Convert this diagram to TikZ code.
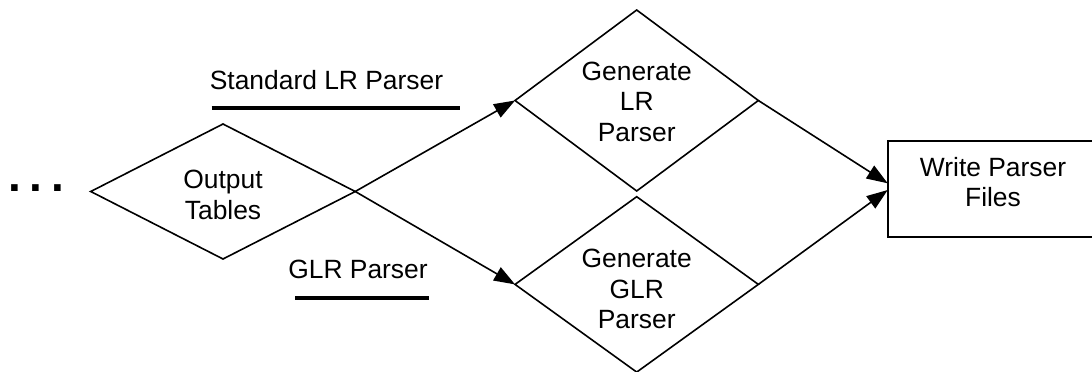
\documentclass[tikz,border=0pt]{standalone}
\usepackage{fontspec}
\setmainfont{Liberation Sans}
\usetikzlibrary{shapes.geometric,arrows.meta}
\begin{document}
\begin{tikzpicture}[x=1pt,y=-1pt,
  decision/.style={draw, diamond, line width=1.6pt, inner sep=0pt, outer sep=0pt},
  process/.style={draw, rectangle, line width=1.6pt, inner sep=0pt, outer sep=0pt},
  txt/.style={align=center, inner sep=0pt, font=\fontsize{26.4}{30.5}\selectfont},
  flow/.style={line width=1.6pt, -{Triangle[length=21pt,width=15pt]}},
  rulebar/.style={line width=4pt}]
\useasboundingbox (0,0) rectangle (1092,372);

% continuation marks
\node[inner sep=0pt, font=\fontsize{46}{46}\selectfont\bfseries] (dots) at (36.4,187.8) {.\hspace{8.9pt}.\hspace{8.9pt}.};

% decision nodes
\node[decision, minimum width=264.5pt, minimum height=135pt] (out) at (223,191.5) {};
\node[txt] (outtxt) at (223,195) {Output\\Tables};

\node[decision, minimum width=243.3pt, minimum height=181pt] (lr) at (636.7,100.5) {};
\node[txt] (lrtxt) at (636.7,101.5) {Generate\\LR\\Parser};

\node[decision, minimum width=243.3pt, minimum height=175.4pt] (glr) at (636.7,284.4) {};
\node[txt] (glrtxt) at (636.7,289) {Generate\\GLR\\Parser};

% output step
\node[process, minimum width=212.3pt, minimum height=96pt] (box) at (993.85,188.7) {};
\node[txt] (boxtxt) at (993,182) {Write Parser\\Files};

% branch labels with bars
\node[txt] (stdlbl) at (326.5,80) {Standard LR Parser};
\draw[rulebar] (211.7,108.3) -- (460,108.3);
\node[txt] (glrlbl) at (358,269) {GLR Parser};
\draw[rulebar] (295,298.3) -- (429,298.3);

% connectors
\coordinate (inA) at ([yshift=5.4pt]box.west);
\coordinate (inB) at ([yshift=-1.3pt]box.west);
\draw[flow] (out.east) -- (lr.west);
\draw[flow] (out.east) -- (glr.west);
\draw[flow] (lr.east) -- (inA);
\draw[flow] (glr.east) -- (inB);
\end{tikzpicture}
\end{document}
